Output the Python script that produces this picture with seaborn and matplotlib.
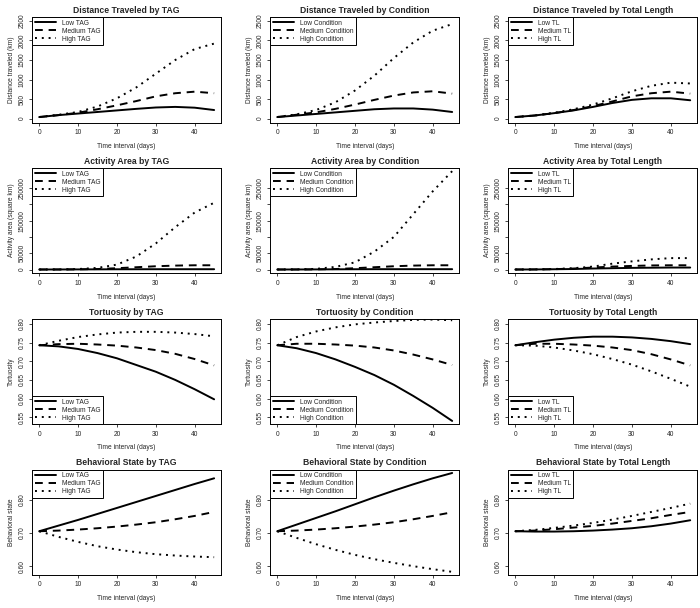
import numpy as np
import pandas as pd
import matplotlib
matplotlib.use("Agg")
import matplotlib.pyplot as plt
import seaborn as sns

# time points (days)
days = [0, 5, 10, 15, 20, 25, 30, 35, 40, 45]

# distance traveled (km)
dist_tag_low = [40, 90, 130, 170, 210, 250, 285, 300, 280, 220]
dist_tag_med = [40, 90, 150, 240, 340, 450, 570, 650, 690, 650]
dist_tag_high = [40, 100, 170, 310, 520, 800, 1150, 1500, 1780, 1920]
dist_cond_low = [40, 80, 120, 160, 200, 240, 260, 260, 230, 170]
dist_cond_med = [40, 100, 160, 250, 360, 480, 590, 670, 700, 640]
dist_cond_high = [40, 110, 220, 420, 720, 1100, 1550, 1950, 2250, 2420]
dist_tl_low = [40, 80, 140, 210, 300, 400, 480, 520, 520, 470]
dist_tl_med = [40, 80, 140, 220, 320, 440, 570, 650, 690, 640]
dist_tl_high = [40, 80, 150, 240, 360, 520, 700, 840, 920, 900]

# activity area (square km)
area_tag_low = [0, 100, 300, 500, 700, 800, 900, 900, 900, 900]
area_tag_med = [0, 100, 500, 1500, 4000, 7000, 10000, 12000, 13000, 13000]
area_tag_high = [0, 200, 1500, 5000, 15000, 40000, 80000, 130000, 175000, 205000]
area_cond_low = [0, 100, 300, 600, 800, 1000, 1000, 1000, 1000, 1000]
area_cond_med = [0, 100, 500, 1500, 4000, 7000, 10000, 12000, 13000, 13000]
area_cond_high = [0, 300, 2000, 8000, 22000, 55000, 100000, 170000, 240000, 302000]
area_tl_low = [0, 200, 800, 1500, 3000, 4000, 5000, 5500, 6000, 6000]
area_tl_med = [0, 200, 1000, 3000, 6000, 9000, 11000, 12500, 13000, 13000]
area_tl_high = [0, 300, 1500, 4000, 9000, 18000, 25000, 31000, 35000, 35000]

# tortuosity
tort_tag_low = [0.743, 0.740, 0.733, 0.722, 0.708, 0.690, 0.672, 0.650, 0.625, 0.598]
tort_tag_med = [0.743, 0.746, 0.747, 0.745, 0.742, 0.737, 0.730, 0.720, 0.706, 0.689]
tort_tag_high = [0.743, 0.755, 0.765, 0.772, 0.777, 0.779, 0.779, 0.777, 0.773, 0.767]
tort_cond_low = [0.743, 0.735, 0.722, 0.705, 0.685, 0.663, 0.637, 0.607, 0.575, 0.540]
tort_cond_med = [0.743, 0.747, 0.747, 0.745, 0.742, 0.737, 0.729, 0.718, 0.705, 0.690]
tort_cond_high = [0.743, 0.765, 0.780, 0.791, 0.799, 0.804, 0.808, 0.811, 0.812, 0.810]
tort_tl_low = [0.743, 0.751, 0.758, 0.763, 0.766, 0.766, 0.764, 0.760, 0.754, 0.746]
tort_tl_med = [0.743, 0.747, 0.747, 0.745, 0.742, 0.737, 0.730, 0.719, 0.705, 0.689]
tort_tl_high = [0.743, 0.742, 0.737, 0.729, 0.719, 0.706, 0.691, 0.673, 0.653, 0.632]

# behavioral state
beh_tag_low = [0.705, 0.722, 0.739, 0.757, 0.775, 0.793, 0.811, 0.829, 0.847, 0.864]
beh_tag_med = [0.705, 0.707, 0.710, 0.714, 0.719, 0.725, 0.732, 0.741, 0.751, 0.763]
beh_tag_high = [0.705, 0.688, 0.673, 0.660, 0.650, 0.642, 0.636, 0.632, 0.629, 0.627]
beh_cond_low = [0.705, 0.725, 0.745, 0.765, 0.786, 0.807, 0.827, 0.846, 0.864, 0.880]
beh_cond_med = [0.705, 0.707, 0.710, 0.714, 0.719, 0.725, 0.732, 0.741, 0.751, 0.762]
beh_cond_high = [0.705, 0.685, 0.666, 0.649, 0.634, 0.621, 0.610, 0.600, 0.591, 0.583]
beh_tl_low = [0.705, 0.704, 0.704, 0.705, 0.707, 0.710, 0.714, 0.720, 0.728, 0.738]
beh_tl_med = [0.705, 0.707, 0.711, 0.716, 0.721, 0.728, 0.736, 0.744, 0.754, 0.763]
beh_tl_high = [0.705, 0.709, 0.715, 0.722, 0.730, 0.740, 0.751, 0.763, 0.775, 0.788]

groups = ["TAG", "Condition", "Total Length"]
short = ["TAG", "Condition", "TL"]

# y tick positions and the labels shown (R drops labels that would collide)
dist_ticks = [0, 500, 1000, 1500, 2000, 2500]
dist_labels = ["0", "500", "1000", "1500", "2000", "2500"]
area_ticks = [0, 50000, 100000, 150000, 200000, 250000]
area_labels = ["0", "50000", "", "150000", "", "250000"]
tort_ticks = [0.55, 0.60, 0.65, 0.70, 0.75, 0.80]
tort_labels = ["0.55", "0.60", "0.65", "0.70", "0.75", "0.80"]
beh_ticks = [0.60, 0.70, 0.80]
beh_labels = ["0.60", "0.70", "0.80"]

rows = [
    ("Distance Traveled", "Distance traveled (km)", dist_ticks, dist_labels,
     (-100, 2600), "upper left",
     [[dist_tag_low, dist_tag_med, dist_tag_high],
      [dist_cond_low, dist_cond_med, dist_cond_high],
      [dist_tl_low, dist_tl_med, dist_tl_high]]),
    ("Activity Area", "Activity area (square km)", area_ticks, area_labels,
     (-12000, 312000), "upper left",
     [[area_tag_low, area_tag_med, area_tag_high],
      [area_cond_low, area_cond_med, area_cond_high],
      [area_tl_low, area_tl_med, area_tl_high]]),
    ("Tortuosity", "Tortuosity", tort_ticks, tort_labels,
     (0.531, 0.814), "lower left",
     [[tort_tag_low, tort_tag_med, tort_tag_high],
      [tort_cond_low, tort_cond_med, tort_cond_high],
      [tort_tl_low, tort_tl_med, tort_tl_high]]),
    ("Behavioral State", "Behavioral state", beh_ticks, beh_labels,
     (0.573, 0.89), "upper left",
     [[beh_tag_low, beh_tag_med, beh_tag_high],
      [beh_cond_low, beh_cond_med, beh_cond_high],
      [beh_tl_low, beh_tl_med, beh_tl_high]]),
]

styles = ["-", (0, (4, 3)), (0, (1, 2.5))]
levels = ["Low", "Medium", "High"]

sns.set_style("ticks")
plt.rcParams["font.family"] = ["Liberation Sans", "DejaVu Sans"]

fig, axes = plt.subplots(4, 3, figsize=(7, 6.08), dpi=100)
fig.subplots_adjust(left=0.046, right=0.996, top=0.972, bottom=0.054,
                    wspace=0.26, hspace=0.43)

for r, (name, ylab, yticks, ylabels, ylim, loc, series) in enumerate(rows):
    for c in range(3):
        ax = axes[r, c]
        for k in range(3):
            sns.lineplot(x=days, y=series[c][k], ax=ax, color="black",
                         linestyle=styles[k], linewidth=1.4,
                         label=f"{levels[k]} {short[c]}")
        ax.set_xlim(-1.8, 46.8)
        ax.set_ylim(*ylim)
        ax.set_xticks([0, 10, 20, 30, 40])
        ax.set_yticks(yticks)
        ax.set_yticklabels(ylabels, rotation=90, va="center")
        ax.tick_params(axis="both", labelsize=4.8, length=2.5, width=0.6, pad=2)
        for sp in ax.spines.values():
            sp.set_visible(True)
            sp.set_linewidth(0.7)
            sp.set_color("black")
        ax.set_title(f"{name} by {groups[c]}", fontsize=6.2, fontweight="bold", pad=3)
        ax.set_xlabel("Time interval (days)", fontsize=4.8, labelpad=5)
        ax.set_ylabel(ylab, fontsize=4.8, labelpad=3)
        leg = ax.legend(loc=loc, fontsize=4.8, frameon=True, fancybox=False,
                        borderaxespad=0, handlelength=3.2, handletextpad=0.8,
                        labelspacing=0.15, borderpad=0.4)
        leg.get_frame().set_edgecolor("black")
        leg.get_frame().set_linewidth(0.7)
        leg.get_frame().set_alpha(1)

fig.savefig("out.png", dpi=100)
